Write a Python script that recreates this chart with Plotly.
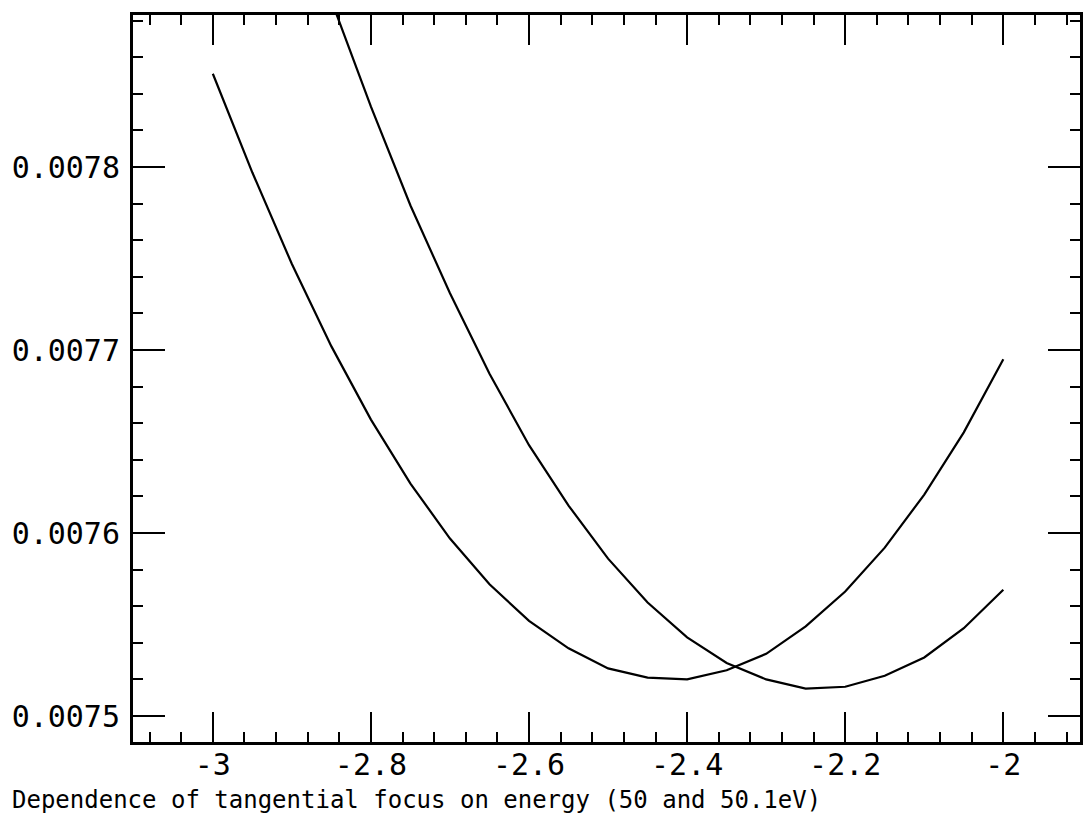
import plotly.graph_objects as go

# energy offset (x) sampled on a 0.05 grid
x_vals = [-3.00, -2.95, -2.90, -2.85, -2.80, -2.75, -2.70, -2.65, -2.60, -2.55, -2.50,
          -2.45, -2.40, -2.35, -2.30, -2.25, -2.20, -2.15, -2.10, -2.05, -2.00]

# tangential focus at 50 eV
focus_50 = [0.007851, 0.007797, 0.007747, 0.007702, 0.007662, 0.007627, 0.007597,
            0.007572, 0.007552, 0.007537, 0.007526, 0.007521, 0.007520, 0.007525,
            0.007534, 0.007549, 0.007568, 0.007592, 0.007621, 0.007655, 0.007695]

# tangential focus at 50.1 eV
focus_501 = [0.008096, 0.008023, 0.007955, 0.007891, 0.007833, 0.007779, 0.007731,
             0.007687, 0.007648, 0.007615, 0.007586, 0.007562, 0.007543, 0.007529,
             0.007520, 0.007515, 0.007516, 0.007522, 0.007532, 0.007548, 0.007569]

x_tick_vals = [-3, -2.8, -2.6, -2.4, -2.2, -2]
x_tick_text = ["-3", "-2.8", "-2.6", "-2.4", "-2.2", "-2"]
y_tick_vals = [0.0075, 0.0076, 0.0077, 0.0078]
y_tick_text = ["0.0075", "0.0076", "0.0077", "0.0078"]

title_text = "Dependence of tangential focus on energy (50 and 50.1eV)"

FONT = "DejaVu Sans Mono"

fig = go.Figure()
for ys in (focus_50, focus_501):
    fig.add_trace(go.Scatter(x=x_vals, y=ys, mode="lines",
                             line=dict(color="black", width=2.2), showlegend=False))

axis_common = dict(
    showgrid=False, zeroline=False,
    showline=True, linecolor="black", linewidth=3, mirror="allticks",
    ticks="inside", tickcolor="black", tickwidth=2,
    tickfont=dict(family=FONT, size=30, color="black"),
)

fig.update_xaxes(
    range=[-3.101, -1.903],
    tickvals=x_tick_vals, ticktext=x_tick_text, ticklen=30,
    ticklabelstandoff=-6,
    minor=dict(dtick=0.04, tick0=-3, ticks="inside", ticklen=10,
               tickcolor="black", tickwidth=2, showgrid=False),
    **axis_common,
)
fig.update_yaxes(
    range=[0.0074858, 0.0078831],
    tickvals=y_tick_vals, ticktext=y_tick_text, ticklen=32,
    ticklabelstandoff=4,
    minor=dict(dtick=0.00002, tick0=0.0075, ticks="inside", ticklen=10,
               tickcolor="black", tickwidth=2, showgrid=False),
    **axis_common,
)

fig.add_annotation(
    text=title_text, xref="paper", yref="paper",
    x=-0.13, y=-0.08, xanchor="left", yanchor="middle",
    showarrow=False, font=dict(family=FONT, size=24, color="black"),
)

fig.update_layout(
    width=1084, height=831,
    margin=dict(l=133, r=1, t=15, b=89),
    plot_bgcolor="white", paper_bgcolor="white",
)

# drop the default body margin so the 1084x831 figure fits the window exactly
fig.write_html("out.html", config={"displayModeBar": False},
               post_script="document.body.style.margin='0';")
